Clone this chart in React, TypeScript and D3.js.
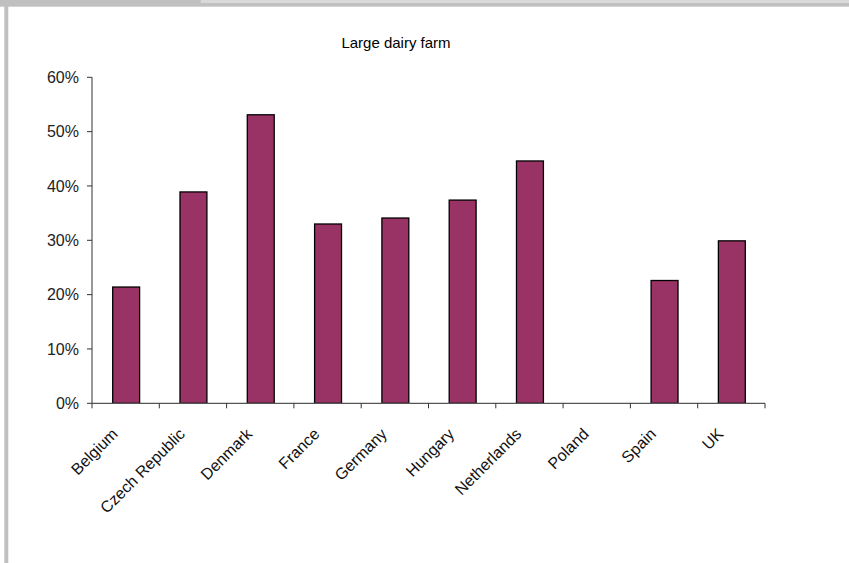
import React from "react";
import * as d3 from "d3";

const categories = ["Belgium", "Czech Republic", "Denmark", "France", "Germany", "Hungary", "Netherlands", "Poland", "Spain", "UK"];
const values: (number | null)[] = [0.214, 0.389, 0.531, 0.330, 0.341, 0.374, 0.446, null, 0.226, 0.299];
const yTicks = [0, 0.1, 0.2, 0.3, 0.4, 0.5, 0.6];
const title = "Large dairy farm";

const W = 849;
const H = 563;
const left = 92;
const right = 765;
const top = 77.3;
const bottom = 403.3;

export default function App() {
  const x = d3.scaleBand<string>().domain(categories).range([left, right]).paddingInner(0.6).paddingOuter(0.3);
  const y = d3.scaleLinear().domain([0, 0.6]).range([bottom, top]);
  const step = x.step();
  const fmt = d3.format(".0%");
  const font = "'Liberation Sans', Arial, sans-serif";
  return (
    <svg width={W} height={H} style={{ position: "absolute", left: 0, top: 0, background: "#fff" }} fontFamily={font}>
      <rect x={0} y={0} width={W} height={H} fill="#fff" />
      {/* header bands */}
      <rect x={0} y={0} width={W} height={6.7} fill="#c0c0c0" />
      <rect x={200.7} y={0} width={W - 200.7} height={3} fill="#d9d9d9" />
      <rect x={4.3} y={0} width={4} height={H} fill="#c0c0c0" />

      <text x={396} y={48} textAnchor="middle" fontSize={15} fill="#000">{title}</text>

      {/* bars */}
      {categories.map((c, i) => {
        const v = values[i];
        if (v == null) return null;
        return (
          <rect key={c} x={x(c)! + 0.5} y={y(v)} width={x.bandwidth()} height={y(0) - y(v)} fill="#993366" stroke="#000" strokeWidth={1.3} />
        );
      })}

      {/* y axis */}
      <line x1={left} x2={left} y1={top} y2={bottom} stroke="#333" strokeWidth={1} />
      {yTicks.map((t) => (
        <g key={t}>
          <line x1={left - 5} x2={left} y1={y(t)} y2={y(t)} stroke="#333" />
          <text x={79} y={y(t)} dy="0.35em" textAnchor="end" fontSize={16} fill="#222">{fmt(t)}</text>
        </g>
      ))}

      {/* x axis */}
      <line x1={left} x2={right} y1={bottom} y2={bottom} stroke="#555" strokeWidth={1.2} />
      {d3.range(categories.length + 1).map((i) => (
        <line key={i} x1={left + i * step} x2={left + i * step} y1={bottom} y2={bottom + 5} stroke="#333" />
      ))}
      {categories.map((c) => {
        const cx = x(c)! + x.bandwidth() / 2;
        return (
          <text key={c} transform={`translate(${cx - 7},${435}) rotate(-45)`} textAnchor="end" fontSize={16} fill="#111">{c}</text>
        );
      })}
    </svg>
  );
}
